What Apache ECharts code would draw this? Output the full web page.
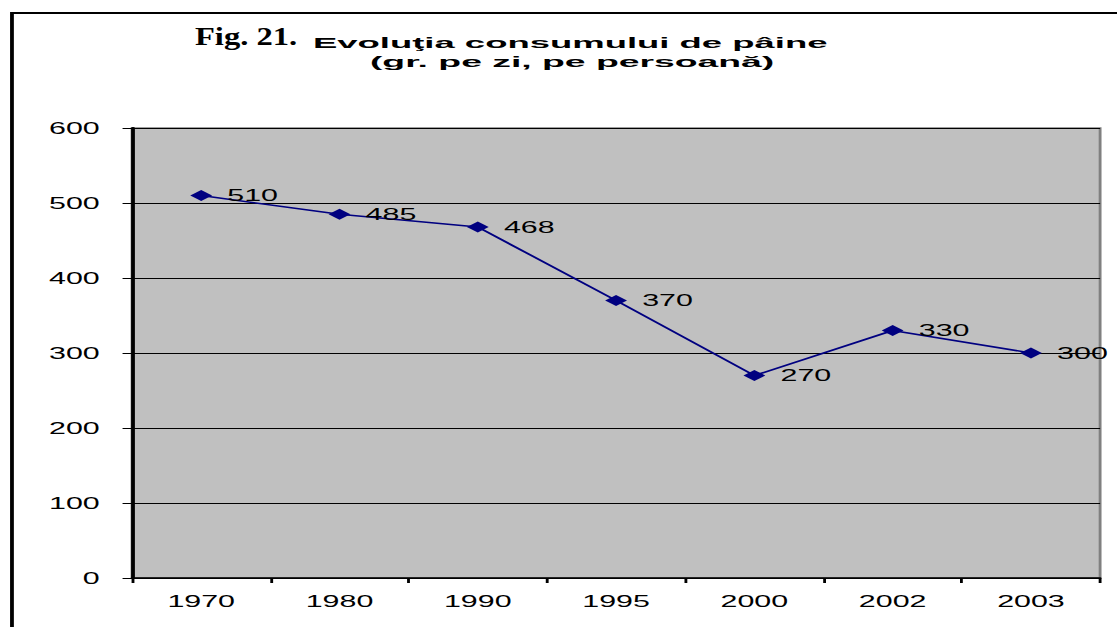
<!DOCTYPE html>
<html>
<head>
<meta charset="utf-8">
<script src="https://cdn.jsdelivr.net/npm/echarts@6/dist/echarts.min.js"></script>
<style>
  html, body { margin: 0; padding: 0; background: #fff; overflow: hidden; }
  /* the reference picture is stretched sideways, so the chart is drawn narrow and widened */
  #chart { width: 588px; height: 627px; transform: scaleX(1.9); transform-origin: 0 0; }
</style>
</head>
<body>
<div id="chart"></div>
<script>
const years = ['1970', '1980', '1990', '1995', '2000', '2002', '2003']
const consum = [510, 485, 468, 370, 270, 330, 300]
const yTicks = { min: 0, max: 600, interval: 100 }

const chart = echarts.init(document.getElementById('chart'), null, { renderer: 'svg' })

const option = {
  animation: false,
  backgroundColor: '#fff',
  graphic: [
    {
      type: 'rect',
      shape: { x: 6.3, y: 13, width: 1000, height: 1000 },
      style: { fill: 'none', stroke: '#000', lineWidth: 2 }
    },
    {
      type: 'text',
      x: 102.6,
      y: 36,
      scaleX: 0.66,
      style: {
        text: 'Fig. 21.',
        font: 'bold 26px "Liberation Serif", "Times New Roman", serif',
        fill: '#000',
        verticalAlign: 'middle'
      }
    },
    {
      type: 'text',
      x: 164.7,
      y: 43,
      scaleX: 1.28,
      style: {
        text: 'Evoluţia consumului de pâine',
        font: 'bold 15px "Liberation Sans", Arial, sans-serif',
        fill: '#000',
        verticalAlign: 'middle'
      }
    },
    {
      type: 'text',
      x: 194.7,
      y: 62,
      scaleX: 1.31,
      style: {
        text: '(gr. pe zi, pe persoană)',
        font: 'bold 15px "Liberation Sans", Arial, sans-serif',
        fill: '#000',
        verticalAlign: 'middle'
      }
    }
  ],
  grid: {
    show: true,
    left: 69.5,
    right: 9,
    top: 128,
    bottom: 49,
    backgroundColor: '#c0c0c0',
    borderColor: '#808080',
    borderWidth: 1.5
  },
  xAxis: {
    type: 'category',
    data: years,
    boundaryGap: true,
    axisLine: { lineStyle: { color: '#000', width: 1.5 } },
    axisTick: { show: true, length: 5, lineStyle: { color: '#000', width: 1.5 } },
    axisLabel: {
      margin: 15,
      color: '#000',
      fontSize: 16,
      fontFamily: '"Liberation Sans", Arial, sans-serif'
    },
    splitLine: { show: false }
  },
  yAxis: {
    type: 'value',
    min: yTicks.min,
    max: yTicks.max,
    interval: yTicks.interval,
    axisLine: { show: true, lineStyle: { color: '#000', width: 2 } },
    axisTick: { show: true, length: 5, lineStyle: { color: '#000', width: 1 } },
    axisLabel: {
      margin: 17,
      color: '#000',
      fontSize: 16,
      fontFamily: '"Liberation Sans", Arial, sans-serif'
    },
    splitLine: { show: true, lineStyle: { color: '#000', width: 1 } }
  },
  series: [
    {
      type: 'line',
      data: consum,
      symbol: 'diamond',
      symbolSize: [11.5, 11],
      lineStyle: { color: '#000080', width: 1.5 },
      itemStyle: { color: '#000080' },
      label: {
        show: true,
        position: 'right',
        distance: 8,
        color: '#000',
        fontSize: 16,
        fontFamily: '"Liberation Sans", Arial, sans-serif'
      }
    }
  ]
}
chart.setOption(option)
</script>
</body>
</html>
